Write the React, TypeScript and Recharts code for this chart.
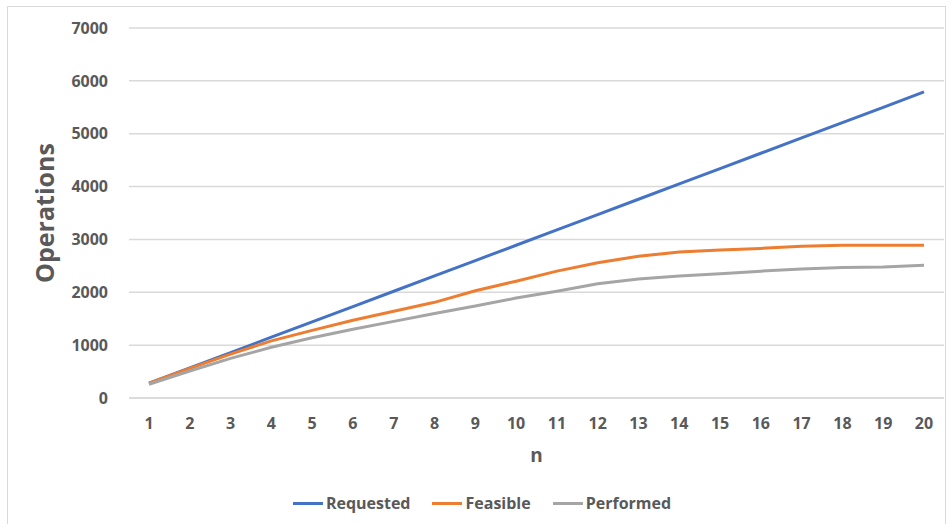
import { LineChart, Line, XAxis, YAxis, CartesianGrid, Legend } from 'recharts';

const ns = ['1', '2', '3', '4', '5', '6', '7', '8', '9', '10', '11', '12', '13', '14', '15', '16', '17', '18', '19', '20'];
const requested = [280, 570, 860, 1150, 1440, 1730, 2020, 2310, 2600, 2890, 3180, 3470, 3760, 4050, 4340, 4630, 4920, 5210, 5500, 5790];
const feasible = [280, 560, 830, 1080, 1280, 1470, 1640, 1810, 2030, 2210, 2400, 2560, 2680, 2760, 2800, 2830, 2870, 2890, 2890, 2890];
const performed = [260, 510, 750, 960, 1140, 1300, 1450, 1600, 1740, 1890, 2020, 2160, 2250, 2310, 2350, 2400, 2440, 2470, 2480, 2510];
const yTicks = [0, 1000, 2000, 3000, 4000, 5000, 6000, 7000];

const series = [
  { key: 'requested', name: 'Requested', color: '#4472C4' },
  { key: 'feasible', name: 'Feasible', color: '#ED7D31' },
  { key: 'performed', name: 'Performed', color: '#A5A5A5' },
];

const data = ns.map((n, i) => ({
  n,
  requested: requested[i],
  feasible: feasible[i],
  performed: performed[i],
}));

const font = '"Open Sans", "Noto Sans", sans-serif';
const textGrey = '#595959';

function LegendContent() {
  return (
    <div style={{ display: 'flex', justifyContent: 'center', gap: 22, fontSize: 16, fontWeight: 700, fontFamily: font, color: textGrey }}>
      {series.map((s) => (
        <div key={s.key} style={{ display: 'flex', alignItems: 'center' }}>
          <span style={{ display: 'inline-block', width: 30, height: 3, background: s.color, marginRight: 3 }} />
          {s.name}
        </div>
      ))}
    </div>
  );
}

export default function App() {
  return (
    <div style={{ position: 'absolute', left: 0, top: 0, width: 951, height: 524, background: '#fff', fontFamily: font }}>
      <div style={{ position: 'absolute', left: 7, top: 6, width: 937, height: 530, border: '1px solid #d9d9d9' }} />
      <LineChart width={951} height={524} data={data} margin={{ top: 28, right: 7, left: 20, bottom: 10 }}>
        <CartesianGrid vertical={false} stroke="#d9d9d9" strokeWidth={1.5} />
        <XAxis
          dataKey="n"
          padding={{ left: 20, right: 20 }}
          axisLine={{ stroke: '#d9d9d9', strokeWidth: 1.5 }}
          tickLine={false}
          tick={{ fill: textGrey, fontSize: 16, fontWeight: 700, fontFamily: font }}
          tickMargin={14}
          height={94}
          label={{ value: 'n', position: 'insideBottom', offset: 30, fill: textGrey, fontSize: 19, fontWeight: 700, fontFamily: font }}
        />
        <YAxis
          domain={[0, 7000]}
          ticks={yTicks}
          axisLine={false}
          tickLine={false}
          width={109}
          tickMargin={15}
          tick={{ fill: textGrey, fontSize: 16, fontWeight: 700, fontFamily: font }}
          label={{ value: 'Operations', angle: -90, position: 'insideLeft', offset: 0, dx: 25, fill: textGrey, fontSize: 25, fontWeight: 700, fontFamily: font, style: { textAnchor: 'middle' } }}
        />
        <Legend verticalAlign="bottom" content={<LegendContent />} />
        {series.map((s) => (
          <Line
            key={s.key}
            type="linear"
            dataKey={s.key}
            name={s.name}
            stroke={s.color}
            strokeWidth={3}
            dot={false}
            isAnimationActive={false}
          />
        ))}
      </LineChart>
    </div>
  );
}
